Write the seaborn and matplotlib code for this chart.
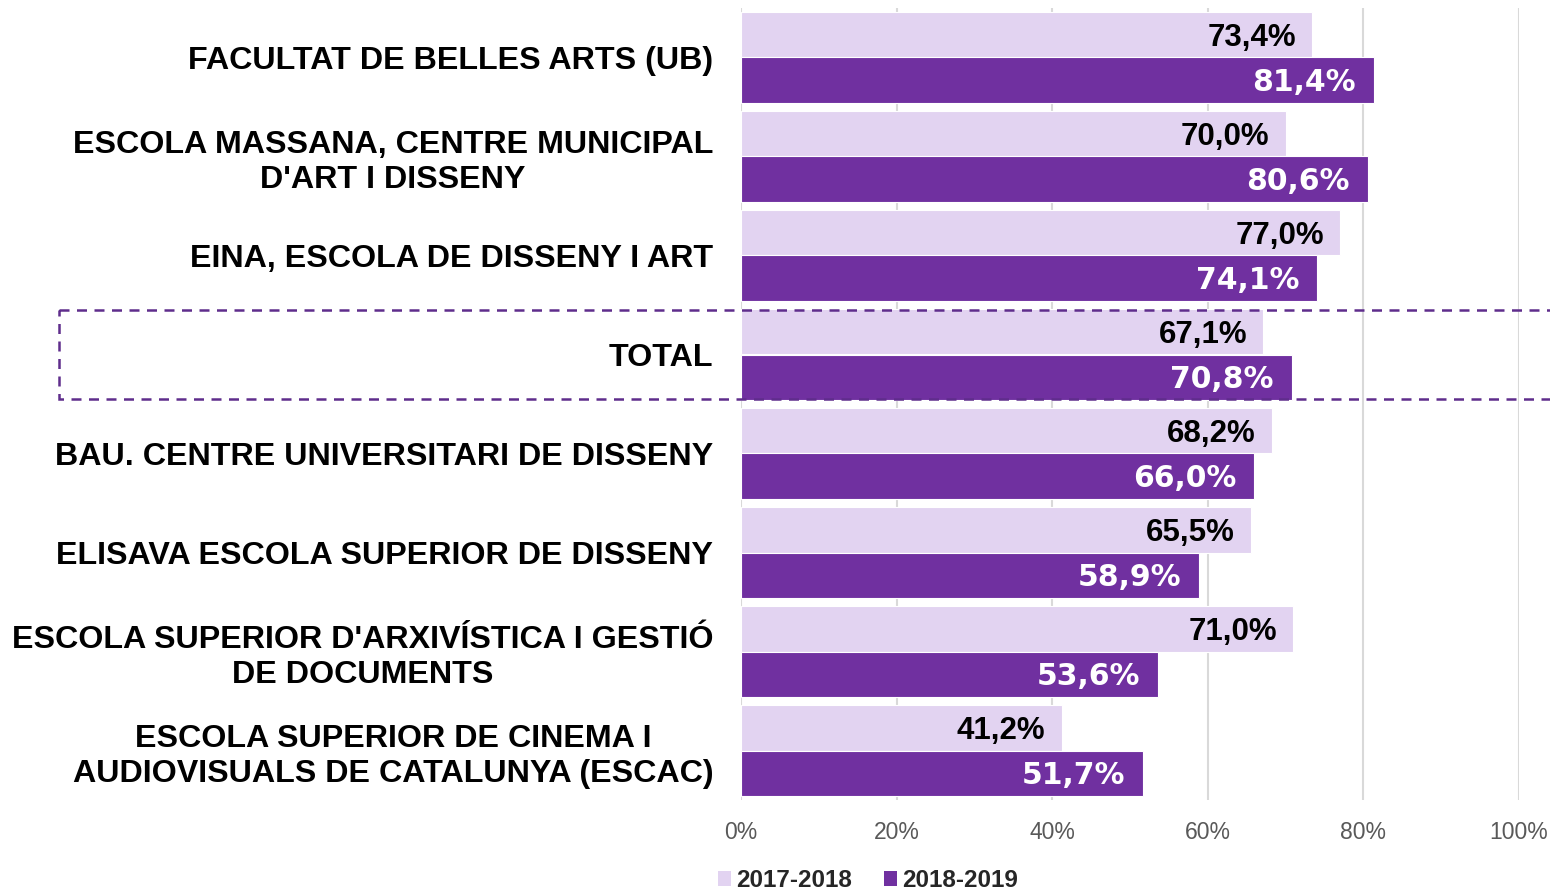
import matplotlib
matplotlib.use("Agg")
import matplotlib.pyplot as plt
import matplotlib.transforms as mtransforms
from matplotlib.patches import Rectangle, Patch
import seaborn as sns
import pandas as pd

categories = [
    "FACULTAT DE BELLES ARTS (UB)",
    "ESCOLA MASSANA, CENTRE MUNICIPAL\nD'ART I DISSENY",
    "EINA, ESCOLA DE DISSENY I ART",
    "TOTAL",
    "BAU. CENTRE UNIVERSITARI DE DISSENY",
    "ELISAVA ESCOLA SUPERIOR DE DISSENY",
    "ESCOLA SUPERIOR D'ARXIVÍSTICA I GESTIÓ\nDE DOCUMENTS",
    "ESCOLA SUPERIOR DE CINEMA I\nAUDIOVISUALS DE CATALUNYA (ESCAC)",
]
series_names = ["2017-2018", "2018-2019"]
values_1718 = [73.4, 70.0, 77.0, 67.1, 68.2, 65.5, 71.0, 41.2]
values_1819 = [81.4, 80.6, 74.1, 70.8, 66.0, 58.9, 53.6, 51.7]
x_ticks = [0, 20, 40, 60, 80, 100]
x_tick_labels = ["0%", "20%", "40%", "60%", "80%", "100%"]

light = "#e2d3f1"
dark = "#7030a0"
box_color = "#5f2d8c"

df = pd.DataFrame({
    "cat": categories * 2,
    "serie": [series_names[0]] * len(categories) + [series_names[1]] * len(categories),
    "val": values_1718 + values_1819,
})

sns.set_style("white")
plt.rcParams["font.family"] = ["Liberation Sans", "DejaVu Sans"]

fig = plt.figure(figsize=(15.5, 8.94), dpi=100)
ax = fig.add_axes([741 / 1550, 1 - 800 / 894, (1519 - 741) / 1550, (800 - 8) / 894])

sns.barplot(data=df, y="cat", x="val", hue="serie", order=categories,
            hue_order=series_names, palette=[light, dark], orient="h",
            width=0.91, gap=0, dodge=True, ax=ax, legend=False,
            edgecolor="white", linewidth=0.8, saturation=1)

ax.set_xlim(0, 100)
ax.set_ylim(len(categories) - 0.5, -0.5)
ax.set_xticks(x_ticks)
ax.set_xticklabels(x_tick_labels, color="#595959", fontsize=16.5)
ax.tick_params(axis="x", length=0, pad=15)
ax.tick_params(axis="y", length=0, pad=20)
ax.set_xlabel("")
ax.set_ylabel("")
for s in ax.spines.values():
    s.set_visible(False)
ax.grid(axis="x", color="#d9d9d9", linewidth=1.5)
ax.set_axisbelow(True)

ax.set_yticks(range(len(categories)))
ax.set_yticklabels(categories, fontsize=23.2, fontweight="bold", color="black",
                   ha="right", multialignment="center", linespacing=1.2)

# data labels
for i, container in enumerate(ax.containers):
    if i == 0:
        labels = [f"{v:.1f}".replace(".", ",") + "%" for v in values_1718]
        ax.bar_label(container, labels=labels, padding=-11.5, fontsize=22.5,
                     fontweight="bold", color="black",
                     fontfamily="Liberation Sans", label_type="edge")
    else:
        labels = [f"{v:.1f}".replace(".", ",") + "%" for v in values_1819]
        ax.bar_label(container, labels=labels, padding=-13, fontsize=21.5,
                     fontweight="bold", color="white",
                     fontfamily="DejaVu Sans", label_type="edge")
for t in ax.texts:
    t.set_ha("right")
    x0, y0 = t.xyann
    t.xyann = (x0, y0 - 2)

# dashed box around TOTAL
idx_total = categories.index("TOTAL")
trans = mtransforms.blended_transform_factory(fig.transFigure, ax.transData)
rect = Rectangle((59 / 1550, idx_total - 0.45), 1.1, 0.9, transform=trans,
                 fill=False, edgecolor=box_color, linestyle=(0, (4, 3)),
                 linewidth=1.8, clip_on=False, zorder=5)
fig.add_artist(rect)

handles = [Patch(facecolor=light, edgecolor="none"), Patch(facecolor=dark, edgecolor="none")]
fig.legend(handles, series_names, loc="lower center", bbox_to_anchor=(868 / 1550, -0.022),
           ncol=2, frameon=False, handlelength=0.55, handleheight=0.55,
           handletextpad=0.2, columnspacing=1.3,
           prop={"family": "Liberation Sans", "weight": "bold", "size": 17.5})

fig.savefig("out.png", dpi=100)
